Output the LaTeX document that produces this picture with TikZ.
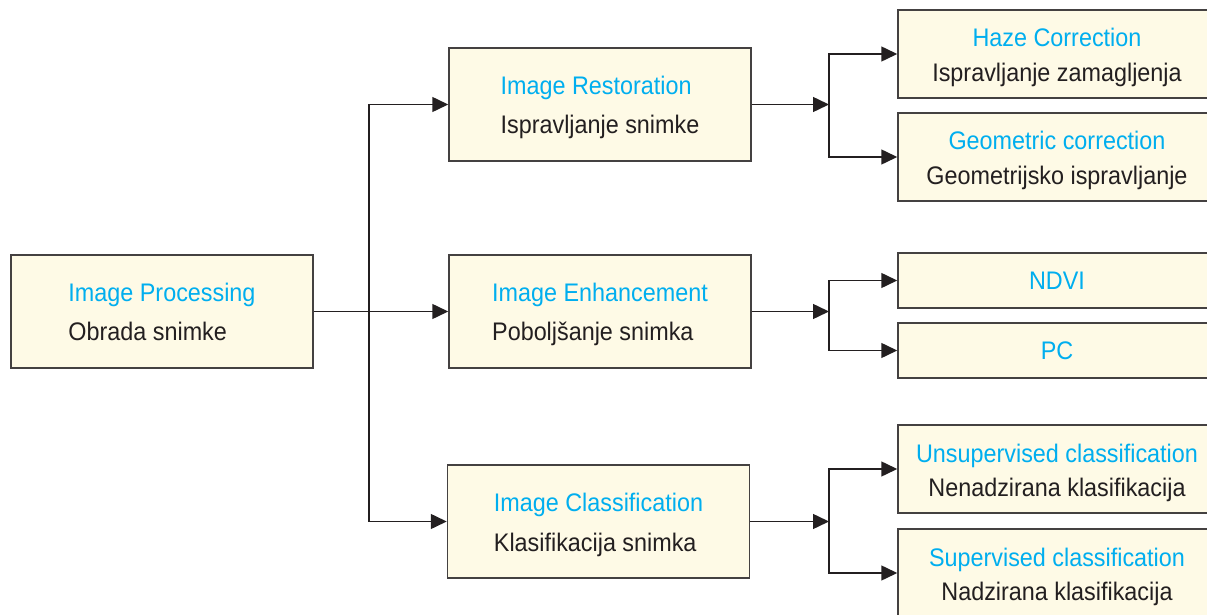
\documentclass[tikz,border=0pt]{standalone}
\usepackage{fontspec}
\setmainfont{Liberation Sans}[FakeStretch=0.92]
\usetikzlibrary{arrows.meta}
\definecolor{ttblue}{HTML}{00AEEF}
\definecolor{boxfill}{HTML}{FEFAE6}
\definecolor{ink}{HTML}{231F20}
\tikzset{
  box/.style={draw=ink!85, line width=0.75pt, fill=boxfill, inner sep=0pt,
    minimum width=151pt, minimum height=56.5pt, align=left, text=ink,
    font=\fontsize{12.7}{20}\selectfont, text height=29.5pt, text depth=0pt},
  leaf/.style={box, minimum width=159pt, minimum height=44pt, align=center,
    font=\fontsize{12.7}{17.25}\selectfont, text height=27.5pt},
  smallleaf/.style={leaf, minimum height=27.5pt, text height=9pt},
  conn/.style={draw=ink, line width=0.75pt},
  arr/.style={conn, -{Triangle[length=8pt,width=7.5pt]}}
}
\begin{document}
\begin{tikzpicture}[x=0.5pt,y=-0.5pt]
\useasboundingbox (0,0) rectangle (1207,615);
\clip (0,0) rectangle (1207,615);
% main boxes
\node[box] (proc) at (162,311.5) {{\color{ttblue}Image Processing}\\Obrada snimke};
\node[box] (rest) at (600,104.5) {{\color{ttblue}Image Restoration}\\Ispravljanje snimke};
\node[box] (enh) at (600,311.5) {{\color{ttblue}Image Enhancement}\\Poboljšanje snimka};
\node[box] (cls) at (598.5,521.5) {{\color{ttblue}Image Classification}\\Klasifikacija snimka};
% leaves
\node[leaf] (haze) at (1057,54) {{\color{ttblue}Haze Correction}\\Ispravljanje zamagljenja};
\node[leaf] (geo) at (1057,157) {{\color{ttblue}Geometric correction}\\Geometrijsko ispravljanje};
\node[smallleaf] (ndvi) at (1057,280.5) {\color{ttblue}NDVI};
\node[smallleaf] (pc) at (1057,350.5) {\color{ttblue}PC};
\node[leaf] (uns) at (1057,469) {{\color{ttblue}Unsupervised classification}\\Nenadzirana klasifikacija};
\node[leaf] (sup) at (1057,573) {{\color{ttblue}Supervised classification}\\Nadzirana klasifikacija};
% junctions
\coordinate (j0) at (369,311.5);
\coordinate (j1) at (829,104.5);
\coordinate (j2) at (829,311.5);
\coordinate (j3) at (829,521.5);
% connectors from processing
\draw[arr] (proc.east) -- (enh.west);
\draw[arr] (j0) |- (rest.west);
\draw[arr] (j0) |- (cls.west);
% restoration
\draw[arr] (rest.east) -- (j1);
\draw[arr] (j1) |- (haze.west);
\draw[arr] (j1) |- (geo.west);
% enhancement
\draw[arr] (enh.east) -- (j2);
\draw[arr] (j2) |- (ndvi.west);
\draw[arr] (j2) |- (pc.west);
% classification
\draw[arr] (cls.east) -- (j3);
\draw[arr] (j3) |- (uns.west);
\draw[arr] (j3) |- (sup.west);
\end{tikzpicture}
\end{document}
